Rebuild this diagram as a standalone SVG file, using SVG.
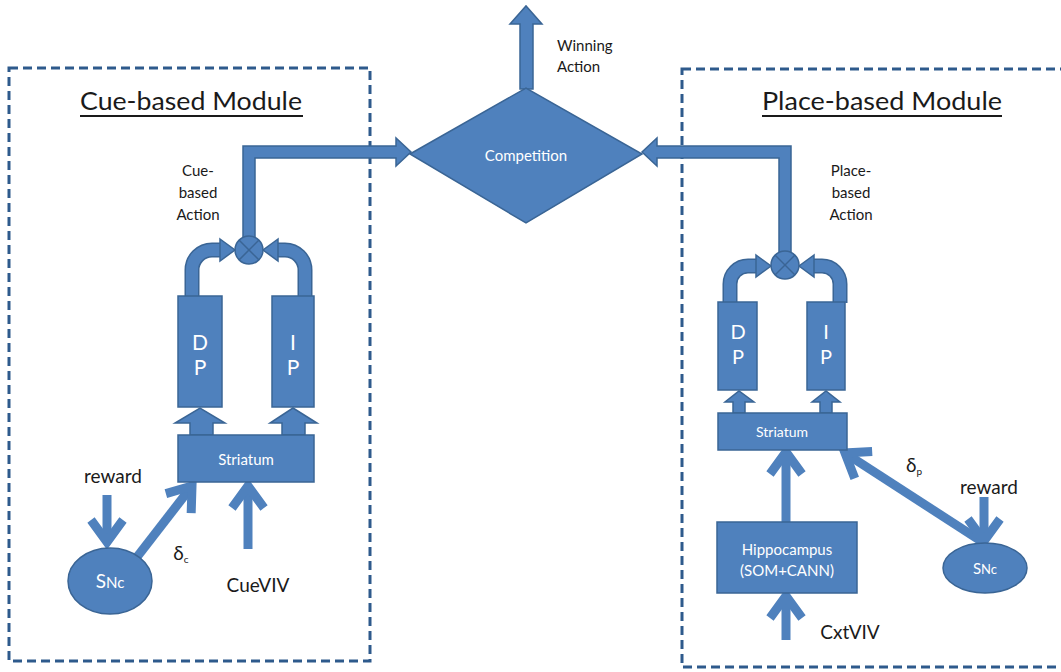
<svg xmlns="http://www.w3.org/2000/svg" width="1061" height="672" viewBox="0 0 1061 672">
<defs>
<style>
.box{fill:#4f81bd;stroke:#3a6595;stroke-width:1.5}
.frame{fill:none;stroke:#2e5a8c;stroke-width:3;stroke-dasharray:9 5}
.wt{fill:#ffffff;font-family:Lato,"Liberation Sans",sans-serif;text-anchor:middle}
.bt{fill:#1a1a1a;font-family:Lato,"Liberation Sans",sans-serif;text-anchor:middle}
.ln{stroke:#4f81bd;stroke-width:9;fill:none}
.pipeo{stroke:#3a6595;stroke-width:15;fill:none}
.pipei{stroke:#4f81bd;stroke-width:12;fill:none}
.x{stroke:#3a6595;stroke-width:1.5}
</style>
<marker id="chev" markerUnits="userSpaceOnUse" markerWidth="60" markerHeight="60" viewBox="-30 -30 60 60" refX="0" refY="0" orient="auto" overflow="visible">
<path d="M-22,-16 L0,0 L-22,16" fill="none" stroke="#4f81bd" stroke-width="9" stroke-linejoin="miter"/>
</marker>
</defs>
<rect width="1061" height="672" fill="#ffffff"/>

<g id="frames">
<rect class="frame" x="9" y="68" width="361" height="593"/>
<rect class="frame" x="682" y="69" width="385" height="598"/>
</g>

<g id="connectors">
<path class="box" d="M243,238 V146 H396 V138 L411,152 L396,166 V158 H255 V238 Z"/>
<path class="box" d="M791,253 V146 H657 V138 L642,152 L657,166 V158 H779 V253 Z"/>
<path class="box" d="M520,89 V24 H510 L526,6 L542,24 H533 V89 Z"/>
<path class="pipeo" d="M192,298 V270 A20,20 0 0 1 212,250 H222"/>
<path class="pipei" d="M192,298 V270 A20,20 0 0 1 212,250 H222"/>
<path class="box" d="M220,239 L235,250 L220,261 Z"/>
<path class="pipeo" d="M305,298 V270 A20,20 0 0 0 285,250 H276"/>
<path class="pipei" d="M305,298 V270 A20,20 0 0 0 285,250 H276"/>
<path class="box" d="M278,239 L263,250 L278,261 Z"/>
<path class="pipeo" d="M730,303 V284 A18,18 0 0 1 748,266 H758"/>
<path class="pipei" d="M730,303 V284 A18,18 0 0 1 748,266 H758"/>
<path class="box" d="M756,255 L771,266 L756,277 Z"/>
<path class="pipeo" d="M840,303 V284 A18,18 0 0 0 822,266 H812"/>
<path class="pipei" d="M840,303 V284 A18,18 0 0 0 822,266 H812"/>
<path class="box" d="M814,255 L799,266 L814,277 Z"/>
<path class="box" d="M190,435 V423 H175 L200,408 L225,423 H213 V435 Z"/>
<path class="box" d="M282,435 V423 H270 L293,408 L317,423 H305 V435 Z"/>
<path class="box" d="M733,413 V402 H725 L739,391 L754,402 H745 V413 Z"/>
<path class="box" d="M820,413 V402 H812 L826,391 L840,402 H832 V413 Z"/>
<line class="ln" x1="107" y1="495" x2="107" y2="542" marker-end="url(#chev)"/>
<line class="ln" x1="137" y1="557" x2="192" y2="486" marker-end="url(#chev)"/>
<line class="ln" x1="248" y1="549" x2="248" y2="486" marker-end="url(#chev)"/>
<line class="ln" x1="786" y1="522" x2="786" y2="452" marker-end="url(#chev)"/>
<line class="ln" x1="786" y1="640" x2="786" y2="596" marker-end="url(#chev)"/>
<line class="ln" x1="984" y1="543" x2="845" y2="453" marker-end="url(#chev)"/>
<line class="ln" x1="984" y1="497" x2="984" y2="541" marker-end="url(#chev)"/>
</g>

<g id="competition">
<path class="box" d="M410,154 L526,88 L642,154 L526,223 Z"/>
<text class="wt" x="526" y="161" font-size="15">Competition</text>
</g>
<g id="winning-label">
<text class="bt" x="557" y="51" font-size="15" style="text-anchor:start">Winning</text>
<text class="bt" x="557" y="72" font-size="15" style="text-anchor:start">Action</text>
</g>

<g id="cue-module">
<text class="bt" x="191" y="110" font-size="25" textLength="222" lengthAdjust="spacingAndGlyphs">Cue-based Module</text>
<line x1="80" y1="116" x2="303" y2="116" stroke="#1a1a1a" stroke-width="2"/>
<text class="bt" x="198" y="176" font-size="15">Cue-</text>
<text class="bt" x="198" y="198" font-size="15">based</text>
<text class="bt" x="198" y="220" font-size="15">Action</text>
</g>
<g id="cue-sum">
<circle class="box" cx="249" cy="250" r="14"/>
<line class="x" x1="239" y1="240" x2="259" y2="260"/>
<line class="x" x1="259" y1="240" x2="239" y2="260"/>
</g>
<g id="cue-dp">
<rect class="box" x="178" y="296" width="44" height="111"/>
<text class="wt" x="200" y="350" font-size="21">D</text>
<text class="wt" x="200" y="375" font-size="21">P</text>
</g>
<g id="cue-ip">
<rect class="box" x="272" y="296" width="42" height="111"/>
<text class="wt" x="293" y="350" font-size="21">I</text>
<text class="wt" x="293" y="375" font-size="21">P</text>
</g>
<g id="cue-striatum">
<rect class="box" x="178" y="435" width="136" height="47"/>
<text class="wt" x="246" y="465" font-size="15">Striatum</text>
</g>
<g id="cue-snc">
<ellipse class="box" cx="110" cy="581" rx="42" ry="33"/>
<text class="wt" x="110" y="588" font-size="19">S<tspan font-size="15">Nc</tspan></text>
</g>
<g id="cue-labels">
<text class="bt" x="113" y="483" font-size="19">reward</text>
<text class="bt" x="181" y="560" font-size="19">δ<tspan font-size="10" dy="3">c</tspan></text>
<text class="bt" x="258" y="592" font-size="19">CueVIV</text>
</g>

<g id="place-module">
<text class="bt" x="882" y="110" font-size="25" textLength="240" lengthAdjust="spacingAndGlyphs">Place-based Module</text>
<line x1="762" y1="116" x2="1002" y2="116" stroke="#1a1a1a" stroke-width="2"/>
<text class="bt" x="851" y="176" font-size="15">Place-</text>
<text class="bt" x="851" y="198" font-size="15">based</text>
<text class="bt" x="851" y="220" font-size="15">Action</text>
</g>
<g id="place-sum">
<circle class="box" cx="785" cy="265" r="14"/>
<line class="x" x1="775" y1="255" x2="795" y2="275"/>
<line class="x" x1="795" y1="255" x2="775" y2="275"/>
</g>
<g id="place-dp">
<rect class="box" x="718" y="302" width="39" height="88"/>
<text class="wt" x="738" y="339" font-size="20">D</text>
<text class="wt" x="738" y="364" font-size="20">P</text>
</g>
<g id="place-ip">
<rect class="box" x="807" y="302" width="38" height="88"/>
<text class="wt" x="826" y="339" font-size="20">I</text>
<text class="wt" x="826" y="364" font-size="20">P</text>
</g>
<g id="place-striatum">
<rect class="box" x="718" y="413" width="129" height="37"/>
<text class="wt" x="782" y="437" font-size="14">Striatum</text>
</g>
<g id="hippocampus">
<rect class="box" x="717" y="522" width="140" height="71"/>
<text class="wt" x="787" y="555" font-size="15">Hippocampus</text>
<text class="wt" x="787" y="576" font-size="15">(SOM+CANN)</text>
</g>
<g id="place-snc">
<ellipse class="box" cx="985" cy="568" rx="42" ry="25"/>
<text class="wt" x="985" y="574" font-size="15">S<tspan font-size="13">Nc</tspan></text>
</g>
<g id="place-labels">
<text class="bt" x="989" y="494" font-size="19">reward</text>
<text class="bt" x="914" y="472" font-size="19">δ<tspan font-size="10" dy="3">p</tspan></text>
<text class="bt" x="850" y="639" font-size="19">CxtVIV</text>
</g>
</svg>
